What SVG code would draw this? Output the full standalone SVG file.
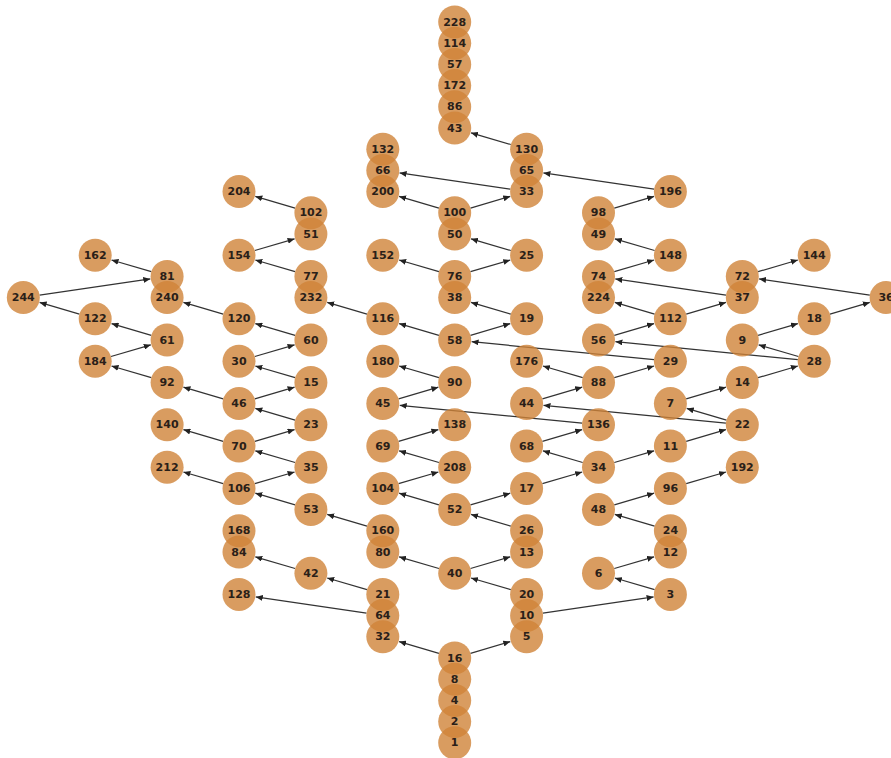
<svg xmlns="http://www.w3.org/2000/svg" width="891" height="758" viewBox="0 0 891 758">
<style>
.e{fill:none;stroke:#333;stroke-width:1.2;marker-end:url(#ah)}
.n circle{fill:#d08338;fill-opacity:0.8}
.n text{font-family:"DejaVu Sans",Verdana,sans-serif;font-weight:bold;font-size:11px;fill:#2a2018;text-anchor:middle;dominant-baseline:central}
</style>
<defs>
<marker id="ah" markerUnits="userSpaceOnUse" viewBox="0 0 7 6" markerWidth="7" markerHeight="6" refX="7" refY="3" orient="auto"><path d="M0,0 L7,3 L0,6 z" fill="#222"/></marker>
</defs>
<rect width="891" height="758" fill="#fff"/>
<g id="edges">
<path class="e" d="M510.8 144.5 l-39.8 -11.7"/>
<path class="e" d="M510.3 189.2 l-110.7 -16.3"/>
<path class="e" d="M654.1 189.2 l-110.7 -16.3"/>
<path class="e" d="M295.1 208.1 l-39.8 -11.7"/>
<path class="e" d="M438.9 208.1 l-39.8 -11.7"/>
<path class="e" d="M470.5 208.1 l39.8 -11.7"/>
<path class="e" d="M614.3 208.1 l39.8 -11.7"/>
<path class="e" d="M254.8 250.5 l39.8 -11.7"/>
<path class="e" d="M295.1 271.7 l-39.8 -11.7"/>
<path class="e" d="M438.9 271.7 l-39.8 -11.7"/>
<path class="e" d="M510.8 250.5 l-39.8 -11.7"/>
<path class="e" d="M470.5 271.7 l39.8 -11.7"/>
<path class="e" d="M654.6 250.5 l-39.8 -11.7"/>
<path class="e" d="M614.3 271.7 l39.8 -11.7"/>
<path class="e" d="M151.3 271.7 l-39.8 -11.7"/>
<path class="e" d="M39.6 295.2 l110.7 -16.3"/>
<path class="e" d="M79.4 314.1 l-39.8 -11.7"/>
<path class="e" d="M223.2 314.1 l-39.8 -11.7"/>
<path class="e" d="M367.0 314.1 l-39.8 -11.7"/>
<path class="e" d="M510.8 314.1 l-39.8 -11.7"/>
<path class="e" d="M726.0 295.2 l-110.7 -16.3"/>
<path class="e" d="M654.6 314.1 l-39.8 -11.7"/>
<path class="e" d="M686.2 314.1 l39.8 -11.7"/>
<path class="e" d="M758.1 271.7 l39.8 -11.7"/>
<path class="e" d="M869.8 295.2 l-110.7 -16.3"/>
<path class="e" d="M151.3 335.3 l-39.8 -11.7"/>
<path class="e" d="M295.1 335.3 l-39.8 -11.7"/>
<path class="e" d="M438.9 335.3 l-39.8 -11.7"/>
<path class="e" d="M470.5 335.3 l39.8 -11.7"/>
<path class="e" d="M614.3 335.3 l39.8 -11.7"/>
<path class="e" d="M830.0 314.1 l39.8 -11.7"/>
<path class="e" d="M758.1 335.3 l39.8 -11.7"/>
<path class="e" d="M111.0 356.5 l39.8 -11.7"/>
<path class="e" d="M254.8 356.5 l39.8 -11.7"/>
<path class="e" d="M654.0 359.6 l-182.4 -17.9"/>
<path class="e" d="M797.8 359.6 l-182.4 -17.9"/>
<path class="e" d="M798.4 356.5 l-39.8 -11.7"/>
<path class="e" d="M151.3 377.7 l-39.8 -11.7"/>
<path class="e" d="M295.1 377.7 l-39.8 -11.7"/>
<path class="e" d="M438.9 377.7 l-39.8 -11.7"/>
<path class="e" d="M582.7 377.7 l-39.8 -11.7"/>
<path class="e" d="M614.3 377.7 l39.8 -11.7"/>
<path class="e" d="M758.1 377.7 l39.8 -11.7"/>
<path class="e" d="M223.2 398.9 l-39.8 -11.7"/>
<path class="e" d="M254.8 398.9 l39.8 -11.7"/>
<path class="e" d="M398.6 398.9 l39.8 -11.7"/>
<path class="e" d="M582.1 423.2 l-182.4 -17.9"/>
<path class="e" d="M542.4 398.9 l39.8 -11.7"/>
<path class="e" d="M686.2 398.9 l39.8 -11.7"/>
<path class="e" d="M725.9 423.2 l-182.4 -17.9"/>
<path class="e" d="M726.5 420.1 l-39.8 -11.7"/>
<path class="e" d="M295.1 420.1 l-39.8 -11.7"/>
<path class="e" d="M223.2 441.3 l-39.8 -11.7"/>
<path class="e" d="M254.8 441.3 l39.8 -11.7"/>
<path class="e" d="M398.6 441.3 l39.8 -11.7"/>
<path class="e" d="M542.4 441.3 l39.8 -11.7"/>
<path class="e" d="M686.2 441.3 l39.8 -11.7"/>
<path class="e" d="M295.1 462.5 l-39.8 -11.7"/>
<path class="e" d="M438.9 462.5 l-39.8 -11.7"/>
<path class="e" d="M582.7 462.5 l-39.8 -11.7"/>
<path class="e" d="M614.3 462.5 l39.8 -11.7"/>
<path class="e" d="M223.2 483.7 l-39.8 -11.7"/>
<path class="e" d="M254.8 483.7 l39.8 -11.7"/>
<path class="e" d="M398.6 483.7 l39.8 -11.7"/>
<path class="e" d="M542.4 483.7 l39.8 -11.7"/>
<path class="e" d="M686.2 483.7 l39.8 -11.7"/>
<path class="e" d="M295.1 504.9 l-39.8 -11.7"/>
<path class="e" d="M438.9 504.9 l-39.8 -11.7"/>
<path class="e" d="M470.5 504.9 l39.8 -11.7"/>
<path class="e" d="M614.3 504.9 l39.8 -11.7"/>
<path class="e" d="M367.0 526.1 l-39.8 -11.7"/>
<path class="e" d="M510.8 526.1 l-39.8 -11.7"/>
<path class="e" d="M654.6 526.1 l-39.8 -11.7"/>
<path class="e" d="M438.9 568.5 l-39.8 -11.7"/>
<path class="e" d="M470.5 568.5 l39.8 -11.7"/>
<path class="e" d="M614.3 568.5 l39.8 -11.7"/>
<path class="e" d="M295.1 568.5 l-39.8 -11.7"/>
<path class="e" d="M367.0 589.7 l-39.8 -11.7"/>
<path class="e" d="M510.8 589.7 l-39.8 -11.7"/>
<path class="e" d="M654.6 589.7 l-39.8 -11.7"/>
<path class="e" d="M542.9 613.2 l110.7 -16.3"/>
<path class="e" d="M366.5 613.2 l-110.7 -16.3"/>
<path class="e" d="M438.9 653.3 l-39.8 -11.7"/>
<path class="e" d="M470.5 653.3 l39.8 -11.7"/>
</g>
<g id="nodes">
<g id="n228" class="n" transform="translate(454.7 22)"><circle r="16.5"/><text>228</text></g>
<g id="n114" class="n" transform="translate(454.7 43.2)"><circle r="16.5"/><text>114</text></g>
<g id="n57" class="n" transform="translate(454.7 64.4)"><circle r="16.5"/><text>57</text></g>
<g id="n172" class="n" transform="translate(454.7 85.6)"><circle r="16.5"/><text>172</text></g>
<g id="n86" class="n" transform="translate(454.7 106.8)"><circle r="16.5"/><text>86</text></g>
<g id="n43" class="n" transform="translate(454.7 128)"><circle r="16.5"/><text>43</text></g>
<g id="n100" class="n" transform="translate(454.7 212.8)"><circle r="16.5"/><text>100</text></g>
<g id="n50" class="n" transform="translate(454.7 234)"><circle r="16.5"/><text>50</text></g>
<g id="n76" class="n" transform="translate(454.7 276.4)"><circle r="16.5"/><text>76</text></g>
<g id="n38" class="n" transform="translate(454.7 297.6)"><circle r="16.5"/><text>38</text></g>
<g id="n58" class="n" transform="translate(454.7 340)"><circle r="16.5"/><text>58</text></g>
<g id="n90" class="n" transform="translate(454.7 382.4)"><circle r="16.5"/><text>90</text></g>
<g id="n138" class="n" transform="translate(454.7 424.8)"><circle r="16.5"/><text>138</text></g>
<g id="n208" class="n" transform="translate(454.7 467.2)"><circle r="16.5"/><text>208</text></g>
<g id="n52" class="n" transform="translate(454.7 509.6)"><circle r="16.5"/><text>52</text></g>
<g id="n40" class="n" transform="translate(454.7 573.2)"><circle r="16.5"/><text>40</text></g>
<g id="n16" class="n" transform="translate(454.7 658)"><circle r="16.5"/><text>16</text></g>
<g id="n8" class="n" transform="translate(454.7 679.2)"><circle r="16.5"/><text>8</text></g>
<g id="n4" class="n" transform="translate(454.7 700.4)"><circle r="16.5"/><text>4</text></g>
<g id="n2" class="n" transform="translate(454.7 721.6)"><circle r="16.5"/><text>2</text></g>
<g id="n1" class="n" transform="translate(454.7 742.8)"><circle r="16.5"/><text>1</text></g>
<g id="n132" class="n" transform="translate(382.8 149.2)"><circle r="16.5"/><text>132</text></g>
<g id="n66" class="n" transform="translate(382.8 170.4)"><circle r="16.5"/><text>66</text></g>
<g id="n200" class="n" transform="translate(382.8 191.6)"><circle r="16.5"/><text>200</text></g>
<g id="n152" class="n" transform="translate(382.8 255.2)"><circle r="16.5"/><text>152</text></g>
<g id="n116" class="n" transform="translate(382.8 318.8)"><circle r="16.5"/><text>116</text></g>
<g id="n180" class="n" transform="translate(382.8 361.2)"><circle r="16.5"/><text>180</text></g>
<g id="n45" class="n" transform="translate(382.8 403.6)"><circle r="16.5"/><text>45</text></g>
<g id="n69" class="n" transform="translate(382.8 446)"><circle r="16.5"/><text>69</text></g>
<g id="n104" class="n" transform="translate(382.8 488.4)"><circle r="16.5"/><text>104</text></g>
<g id="n160" class="n" transform="translate(382.8 530.8)"><circle r="16.5"/><text>160</text></g>
<g id="n80" class="n" transform="translate(382.8 552)"><circle r="16.5"/><text>80</text></g>
<g id="n21" class="n" transform="translate(382.8 594.4)"><circle r="16.5"/><text>21</text></g>
<g id="n64" class="n" transform="translate(382.8 615.6)"><circle r="16.5"/><text>64</text></g>
<g id="n32" class="n" transform="translate(382.8 636.8)"><circle r="16.5"/><text>32</text></g>
<g id="n130" class="n" transform="translate(526.6 149.2)"><circle r="16.5"/><text>130</text></g>
<g id="n65" class="n" transform="translate(526.6 170.4)"><circle r="16.5"/><text>65</text></g>
<g id="n33" class="n" transform="translate(526.6 191.6)"><circle r="16.5"/><text>33</text></g>
<g id="n25" class="n" transform="translate(526.6 255.2)"><circle r="16.5"/><text>25</text></g>
<g id="n19" class="n" transform="translate(526.6 318.8)"><circle r="16.5"/><text>19</text></g>
<g id="n176" class="n" transform="translate(526.6 361.2)"><circle r="16.5"/><text>176</text></g>
<g id="n44" class="n" transform="translate(526.6 403.6)"><circle r="16.5"/><text>44</text></g>
<g id="n68" class="n" transform="translate(526.6 446)"><circle r="16.5"/><text>68</text></g>
<g id="n17" class="n" transform="translate(526.6 488.4)"><circle r="16.5"/><text>17</text></g>
<g id="n26" class="n" transform="translate(526.6 530.8)"><circle r="16.5"/><text>26</text></g>
<g id="n13" class="n" transform="translate(526.6 552)"><circle r="16.5"/><text>13</text></g>
<g id="n20" class="n" transform="translate(526.6 594.4)"><circle r="16.5"/><text>20</text></g>
<g id="n10" class="n" transform="translate(526.6 615.6)"><circle r="16.5"/><text>10</text></g>
<g id="n5" class="n" transform="translate(526.6 636.8)"><circle r="16.5"/><text>5</text></g>
<g id="n98" class="n" transform="translate(598.5 212.8)"><circle r="16.5"/><text>98</text></g>
<g id="n49" class="n" transform="translate(598.5 234)"><circle r="16.5"/><text>49</text></g>
<g id="n74" class="n" transform="translate(598.5 276.4)"><circle r="16.5"/><text>74</text></g>
<g id="n224" class="n" transform="translate(598.5 297.6)"><circle r="16.5"/><text>224</text></g>
<g id="n56" class="n" transform="translate(598.5 340)"><circle r="16.5"/><text>56</text></g>
<g id="n88" class="n" transform="translate(598.5 382.4)"><circle r="16.5"/><text>88</text></g>
<g id="n136" class="n" transform="translate(598.5 424.8)"><circle r="16.5"/><text>136</text></g>
<g id="n34" class="n" transform="translate(598.5 467.2)"><circle r="16.5"/><text>34</text></g>
<g id="n48" class="n" transform="translate(598.5 509.6)"><circle r="16.5"/><text>48</text></g>
<g id="n6" class="n" transform="translate(598.5 573.2)"><circle r="16.5"/><text>6</text></g>
<g id="n196" class="n" transform="translate(670.4 191.6)"><circle r="16.5"/><text>196</text></g>
<g id="n148" class="n" transform="translate(670.4 255.2)"><circle r="16.5"/><text>148</text></g>
<g id="n112" class="n" transform="translate(670.4 318.8)"><circle r="16.5"/><text>112</text></g>
<g id="n29" class="n" transform="translate(670.4 361.2)"><circle r="16.5"/><text>29</text></g>
<g id="n7" class="n" transform="translate(670.4 403.6)"><circle r="16.5"/><text>7</text></g>
<g id="n11" class="n" transform="translate(670.4 446)"><circle r="16.5"/><text>11</text></g>
<g id="n96" class="n" transform="translate(670.4 488.4)"><circle r="16.5"/><text>96</text></g>
<g id="n24" class="n" transform="translate(670.4 530.8)"><circle r="16.5"/><text>24</text></g>
<g id="n12" class="n" transform="translate(670.4 552)"><circle r="16.5"/><text>12</text></g>
<g id="n3" class="n" transform="translate(670.4 594.4)"><circle r="16.5"/><text>3</text></g>
<g id="n72" class="n" transform="translate(742.3 276.4)"><circle r="16.5"/><text>72</text></g>
<g id="n37" class="n" transform="translate(742.3 297.6)"><circle r="16.5"/><text>37</text></g>
<g id="n9" class="n" transform="translate(742.3 340)"><circle r="16.5"/><text>9</text></g>
<g id="n14" class="n" transform="translate(742.3 382.4)"><circle r="16.5"/><text>14</text></g>
<g id="n22" class="n" transform="translate(742.3 424.8)"><circle r="16.5"/><text>22</text></g>
<g id="n192" class="n" transform="translate(742.3 467.2)"><circle r="16.5"/><text>192</text></g>
<g id="n144" class="n" transform="translate(814.2 255.2)"><circle r="16.5"/><text>144</text></g>
<g id="n18" class="n" transform="translate(814.2 318.8)"><circle r="16.5"/><text>18</text></g>
<g id="n28" class="n" transform="translate(814.2 361.2)"><circle r="16.5"/><text>28</text></g>
<g id="n36" class="n" transform="translate(886.1 297.6)"><circle r="16.5"/><text>36</text></g>
<g id="n102" class="n" transform="translate(310.9 212.8)"><circle r="16.5"/><text>102</text></g>
<g id="n51" class="n" transform="translate(310.9 234)"><circle r="16.5"/><text>51</text></g>
<g id="n77" class="n" transform="translate(310.9 276.4)"><circle r="16.5"/><text>77</text></g>
<g id="n232" class="n" transform="translate(310.9 297.6)"><circle r="16.5"/><text>232</text></g>
<g id="n60" class="n" transform="translate(310.9 340)"><circle r="16.5"/><text>60</text></g>
<g id="n15" class="n" transform="translate(310.9 382.4)"><circle r="16.5"/><text>15</text></g>
<g id="n23" class="n" transform="translate(310.9 424.8)"><circle r="16.5"/><text>23</text></g>
<g id="n35" class="n" transform="translate(310.9 467.2)"><circle r="16.5"/><text>35</text></g>
<g id="n53" class="n" transform="translate(310.9 509.6)"><circle r="16.5"/><text>53</text></g>
<g id="n42" class="n" transform="translate(310.9 573.2)"><circle r="16.5"/><text>42</text></g>
<g id="n204" class="n" transform="translate(239 191.6)"><circle r="16.5"/><text>204</text></g>
<g id="n154" class="n" transform="translate(239 255.2)"><circle r="16.5"/><text>154</text></g>
<g id="n120" class="n" transform="translate(239 318.8)"><circle r="16.5"/><text>120</text></g>
<g id="n30" class="n" transform="translate(239 361.2)"><circle r="16.5"/><text>30</text></g>
<g id="n46" class="n" transform="translate(239 403.6)"><circle r="16.5"/><text>46</text></g>
<g id="n70" class="n" transform="translate(239 446)"><circle r="16.5"/><text>70</text></g>
<g id="n106" class="n" transform="translate(239 488.4)"><circle r="16.5"/><text>106</text></g>
<g id="n168" class="n" transform="translate(239 530.8)"><circle r="16.5"/><text>168</text></g>
<g id="n84" class="n" transform="translate(239 552)"><circle r="16.5"/><text>84</text></g>
<g id="n128" class="n" transform="translate(239 594.4)"><circle r="16.5"/><text>128</text></g>
<g id="n81" class="n" transform="translate(167.1 276.4)"><circle r="16.5"/><text>81</text></g>
<g id="n240" class="n" transform="translate(167.1 297.6)"><circle r="16.5"/><text>240</text></g>
<g id="n61" class="n" transform="translate(167.1 340)"><circle r="16.5"/><text>61</text></g>
<g id="n92" class="n" transform="translate(167.1 382.4)"><circle r="16.5"/><text>92</text></g>
<g id="n140" class="n" transform="translate(167.1 424.8)"><circle r="16.5"/><text>140</text></g>
<g id="n212" class="n" transform="translate(167.1 467.2)"><circle r="16.5"/><text>212</text></g>
<g id="n162" class="n" transform="translate(95.2 255.2)"><circle r="16.5"/><text>162</text></g>
<g id="n122" class="n" transform="translate(95.2 318.8)"><circle r="16.5"/><text>122</text></g>
<g id="n184" class="n" transform="translate(95.2 361.2)"><circle r="16.5"/><text>184</text></g>
<g id="n244" class="n" transform="translate(23.3 297.6)"><circle r="16.5"/><text>244</text></g>
</g>
</svg>
